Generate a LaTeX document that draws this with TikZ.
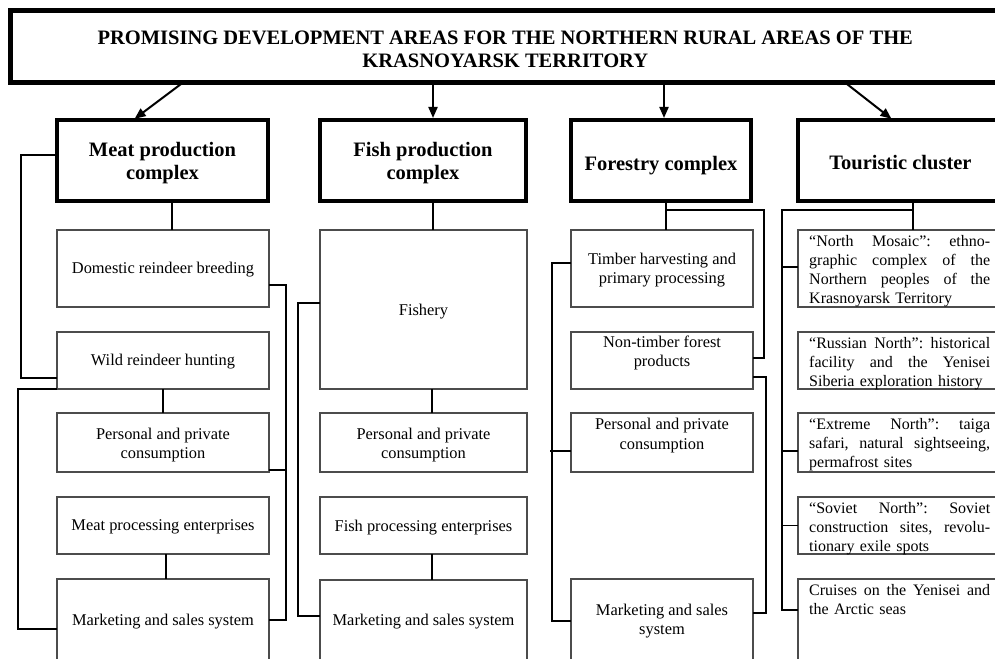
\documentclass[tikz,border=0pt]{standalone}
\usepackage{fontspec}
\setmainfont{Liberation Serif}
\usetikzlibrary{arrows.meta,calc}
\newcommand{\js}{\hskip 4pt plus 1fil\relax}
\newcommand{\jline}[1]{\leavevmode\hbox to 181pt{#1}}
% box node (empty) plus its text node, shifted by dy (downwards)
\newcommand{\bx}[8]{%
  \node[#1,minimum width=#5pt,minimum height=#6pt] (#2) at (#3,#4) {};
  \node[#1text] (#2t) at ($(#2.center)+(0,#7)$) {#8};}
\begin{document}
\begin{tikzpicture}[x=1pt,y=-1pt,
 bigbox/.style={draw=black,line width=4.5pt,inner sep=0pt,outer sep=0pt,anchor=north west},
 bigboxtext/.style={inner sep=0pt,font=\fontsize{20.5}{23}\selectfont\bfseries,align=center},
 sbox/.style={draw=black!70,line width=1.2pt,inner sep=0pt,outer sep=0pt,anchor=north west},
 sboxtext/.style={inner sep=0pt,font=\fontsize{16.4}{19.3}\selectfont,align=center},
 ttxt/.style={inner sep=0pt,anchor=north west,font=\fontsize{16}{19}\selectfont,align=left,text width=181pt},
 conn/.style={draw=black,line width=1.5pt},
 arr/.style={draw=black,line width=2pt,shorten >=2pt,-{Triangle[length=11pt,width=9pt]}}]
\useasboundingbox (0,0) rectangle (995,658);
\clip (0,0) rectangle (995,658);
\fill[white] (0,0) rectangle (995,658);

% title
\bx{bigbox}{title}{10.5}{10.5}{989.5}{72}{3}{PROMISING DEVELOPMENT AREAS FOR THE NORTHERN RURAL AREAS OF THE\\KRASNOYARSK TERRITORY}

% heads
\bx{bigbox}{meat}{57}{120}{211}{81}{3}{Meat production\\complex}
\bx{bigbox}{fishh}{320}{120}{206}{81}{3}{Fish production\\complex}
\bx{bigbox}{forh}{571}{120}{180}{81}{5}{Forestry complex}
\bx{bigbox}{toh}{798}{120}{205}{81}{2}{Touristic cluster}

% meat column
\bx{sbox}{dom}{57}{230}{212}{77}{1}{Domestic reindeer breeding}
\bx{sbox}{wild}{57}{332}{212}{57}{1}{Wild reindeer hunting}
\bx{sbox}{pers1}{57}{413}{212}{59}{2.5}{Personal and private\\consumption}
\bx{sbox}{proc1}{57}{497}{212}{57}{1}{Meat processing enterprises}
\bx{sbox}{mkt1}{57}{579}{212}{82}{2}{Marketing and sales system}

% fish column
\bx{sbox}{fishery}{320}{230}{207}{159}{2}{Fishery}
\bx{sbox}{pers2}{320}{413}{207}{59}{2.5}{Personal and private\\consumption}
\bx{sbox}{proc2}{320}{497}{207}{57}{2}{Fish processing enterprises}
\bx{sbox}{mkt2}{320}{580}{207}{80}{2}{Marketing and sales system}

% forestry column
\bx{sbox}{timber}{571}{230}{182}{77}{1.5}{Timber harvesting and\\primary processing}
\bx{sbox}{nt}{571}{332}{182}{57}{-7.5}{Non-timber forest\\products}
\bx{sbox}{pers3}{571}{413}{182}{59}{-7}{Personal and private\\consumption}
\bx{sbox}{mkt3}{571}{579}{182}{82}{1}{Marketing and sales\\system}

% tourist column
\node[sbox,minimum width=205pt,minimum height=77pt] (nm) at (798,230) {};
\node[sbox,minimum width=205pt,minimum height=57pt] (rn) at (798,332) {};
\node[sbox,minimum width=205pt,minimum height=59pt] (en) at (798,413) {};
\node[sbox,minimum width=205pt,minimum height=57pt] (sn) at (798,497) {};
\node[sbox,minimum width=205pt,minimum height=82pt] (cr) at (798,579) {};
\node[ttxt] (nmt) at ($(nm.north west)+(11,2.7)$) {\strut\jline{“North\js Mosaic”:\js ethno-}\\\jline{graphic\js complex\js of\js the}\\\jline{Northern\js peoples\js of\js the}\\Krasnoyarsk Territory};
\node[ttxt] (rnt) at ($(rn.north west)+(11,2.7)$) {\strut\jline{“Russian\js North”:\js historical}\\\jline{facility\js and\js the\js Yenisei}\\Siberia exploration history};
\node[ttxt] (ent) at ($(en.north west)+(11,2.7)$) {\strut\jline{“Extreme\js North”:\js taiga}\\\jline{safari,\js natural\js sightseeing,}\\permafrost sites};
\node[ttxt] (snt) at ($(sn.north west)+(11,2.7)$) {\strut\jline{“Soviet\js North”:\js Soviet}\\\jline{construction\js sites,\js revolu-}\\tionary exile spots};
\node[ttxt] (crt) at ($(cr.north west)+(11,2.7)$) {\strut\jline{Cruises\js on\js the\js Yenisei\js and}\\the Arctic seas};

% arrows from title
\draw[arr] ($(title.south west)+(172.5,0)$) -- ($(meat.north west)+(76,0)$);
\coordinate (a2) at ($(fishh.north west)+(113,0)$);
\draw[arr] (title.south -| a2) -- (a2);
\coordinate (a3) at ($(forh.north west)+(93,0)$);
\draw[arr] (title.south -| a3) -- (a3);
\draw[arr] ($(title.south west)+(834.5,0)$) -- ($(toh.north west)+(95,0)$);

% meat connectors
\coordinate (c1) at ($(meat.south west)+(115,0)$);
\draw[conn] (c1) -- (c1 |- dom.north);
\draw[conn] ($(meat.west)+(0,-5.5)$) -- ++(-36,0) |- ($(wild.west)+(0,17.5)$);
\draw[conn] (wild.south west) -- ++(-39,0) |- ($(mkt1.west)+(0,9)$);
\draw[conn] ($(dom.east)+(0,16.5)$) -- ++(17,0) |- (mkt1.east);
\draw[conn] ($(pers1.east)+(0,27.5)$) -- ++(17,0);
\draw[conn] (wild.south) -- (pers1.north);
\coordinate (c2) at ($(proc1.south)+(3,0)$);
\draw[conn] (c2) -- (c2 |- mkt1.north);

% fish connectors
\coordinate (c3) at ($(fishh.south)+(10,0)$);
\draw[conn] (c3) -- (c3 |- fishery.north);
\draw[conn] ($(fishery.west)+(0,-6.5)$) -- ++(-22,0) |- ($(mkt2.west)+(0,-4)$);
\coordinate (c4) at ($(fishery.south)+(8.5,0)$);
\draw[conn] (c4) -- (c4 |- pers2.north);
\coordinate (c5) at ($(proc2.south)+(8.5,0)$);
\draw[conn] (c5) -- (c5 |- mkt2.north);

% forestry connectors
\coordinate (c6) at ($(forh.south)+(5,0)$);
\draw[conn] (c6) -- (c6 |- timber.north);
\draw[conn] ($(c6)+(0,9)$) -| ($(nt.east)+(11,-2.5)$) -- ($(nt.east)+(0,-2.5)$);
\draw[conn] ($(timber.west)+(0,-5.5)$) -- ++(-19,0) |- ($(mkt3.west)+(0,1)$);
\draw[conn] ($(pers3.west)+(0,8.5)$) -- ++(-21,0);
\draw[conn] ($(nt.east)+(0,16.5)$) -- ++(13,0) |- ($(mkt3.east)+(0,-7)$);

% tourist connectors
\coordinate (c7) at ($(toh.south)+(12.5,0)$);
\draw[conn] (c7) -- (c7 |- nm.north);
\draw[conn] ($(c7)+(0,9)$) -| ($(cr.west)+(-16,-10)$) -- ($(cr.west)+(0,-10)$);
\draw[conn] ($(nm.west)+(0,-1.5)$) -- ++(-16,0);
\draw[conn] ($(en.west)+(0,8.5)$) -- ++(-16,0);
\draw[conn] (sn.west) -- ++(-16,0);
\end{tikzpicture}
\end{document}
